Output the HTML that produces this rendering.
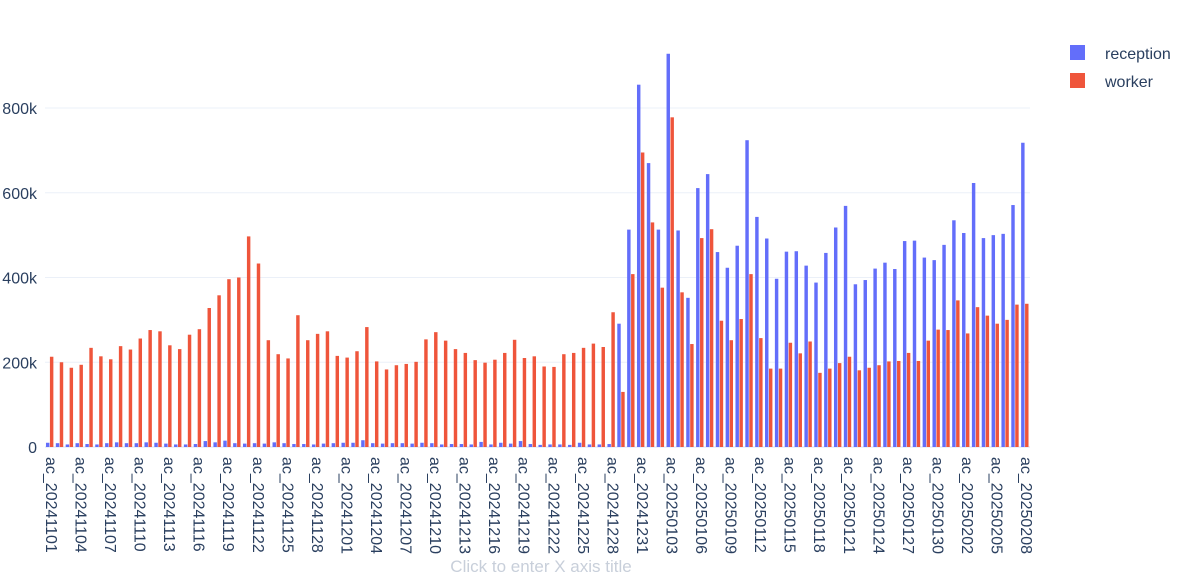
<!DOCTYPE html>
<html><head><meta charset="utf-8">
<style>
html,body{margin:0;padding:0;background:#fff;}
svg{display:block;font-family:"Liberation Sans","Open Sans",sans-serif;}
</style></head>
<body>
<svg id="chart" width="1200" height="574" viewBox="0 0 1200 574" xmlns="http://www.w3.org/2000/svg">
<g id="grid"></g>
<g id="bars"></g>
<g id="yticks"></g>
<g id="xticks"></g>
<g>
  <rect x="1070" y="45" width="15" height="15" fill="#636efa"/>
  <text x="1105" y="59" font-size="16" fill="#2a3f5f">reception</text>
  <rect x="1070" y="73" width="15" height="15" fill="#ef553b"/>
  <text x="1105" y="87" font-size="16" fill="#2a3f5f">worker</text>
</g>
<text x="541" y="572" text-anchor="middle" font-size="17" fill="#c8cfda">Click to enter X axis title</text>
</svg>
<script>
const reception = [10,9,6,9,7,6,9,11,9,9,11,10,8,6,6,7,14,11,15,9,8,9,8,11,9,7,7,6,8,9,10,10,16,9,8,9,9,8,10,9,6,7,7,6,12,6,10,8,14,7,5,6,6,5,10,6,6,7,291,513,855,670,513,928,511,352,611,644,460,423,475,724,543,492,397,461,462,428,388,458,518,569,384,394,421,435,420,486,487,447,441,477,535,505,623,493,500,503,571,718];
const worker = [213,200,187,194,234,214,207,238,230,256,276,273,240,231,265,278,328,358,396,400,497,433,252,219,209,311,252,267,273,215,211,226,283,202,183,193,196,201,254,271,251,231,222,205,199,206,222,253,210,214,190,189,219,222,234,244,236,318,130,408,695,530,376,778,365,243,493,514,298,252,302,408,257,185,185,246,221,249,175,185,198,213,181,187,193,202,203,222,203,251,277,276,346,268,330,310,291,300,336,338];
const yTicks = [0,200,400,600,800];
const yTickLabels = ["0","200k","400k","600k","800k"];

const NS="http://www.w3.org/2000/svg";
const start = new Date(Date.UTC(2024,10,1));
const categories = [];
for (let i=0;i<reception.length;i++){
  const d=new Date(start.getTime()+i*86400000);
  categories.push("ac_"+d.getUTCFullYear()+String(d.getUTCMonth()+1).padStart(2,"0")+String(d.getUTCDate()).padStart(2,"0"));
}
const L=45,R=1030,Y0=447,PXK=(447-108)/800;
const step=(R-L)/categories.length;
const xC=i=>L+step*(i+0.5);
const yS=v=>Y0-v*PXK;
function mk(tag,attrs,parent){const e=document.createElementNS(NS,tag);for(const k in attrs)e.setAttribute(k,attrs[k]);parent.appendChild(e);return e;}
const grid=document.getElementById('grid'),bars=document.getElementById('bars'),yt=document.getElementById('yticks'),xt=document.getElementById('xticks');
yTicks.forEach((t,j)=>{
  const ln=mk('line',{x1:L,x2:R,y1:yS(t),y2:yS(t),stroke:'#ebf0f8','stroke-width':j===0?2:1},grid);
  
  
  const tx=mk('text',{x:37,y:yS(t)+6,'text-anchor':'end','font-size':16,fill:'#2a3f5f'},yt);
  tx.textContent=yTickLabels[j];
  
  
});
const bw=step*0.8/2;
categories.forEach((c,i)=>{
  const x0=xC(i)-bw;
  const b1=mk('rect',{x:x0,y:yS(reception[i]),width:bw-0.5,height:reception[i]*PXK,fill:'#636efa'},bars);
  
  
  const b2=mk('rect',{x:x0+bw,y:yS(worker[i]),width:bw-0.5,height:worker[i]*PXK,fill:'#ef553b'},bars);
  
  
  if(i%3===0){
    const tx=mk('text',{x:0,y:0,'font-size':16,fill:'#2a3f5f',transform:'translate('+(xC(i)-4)+',457) rotate(90)'},xt);
    tx.textContent=c;
    
    
  }
});
</script>
</body></html>
